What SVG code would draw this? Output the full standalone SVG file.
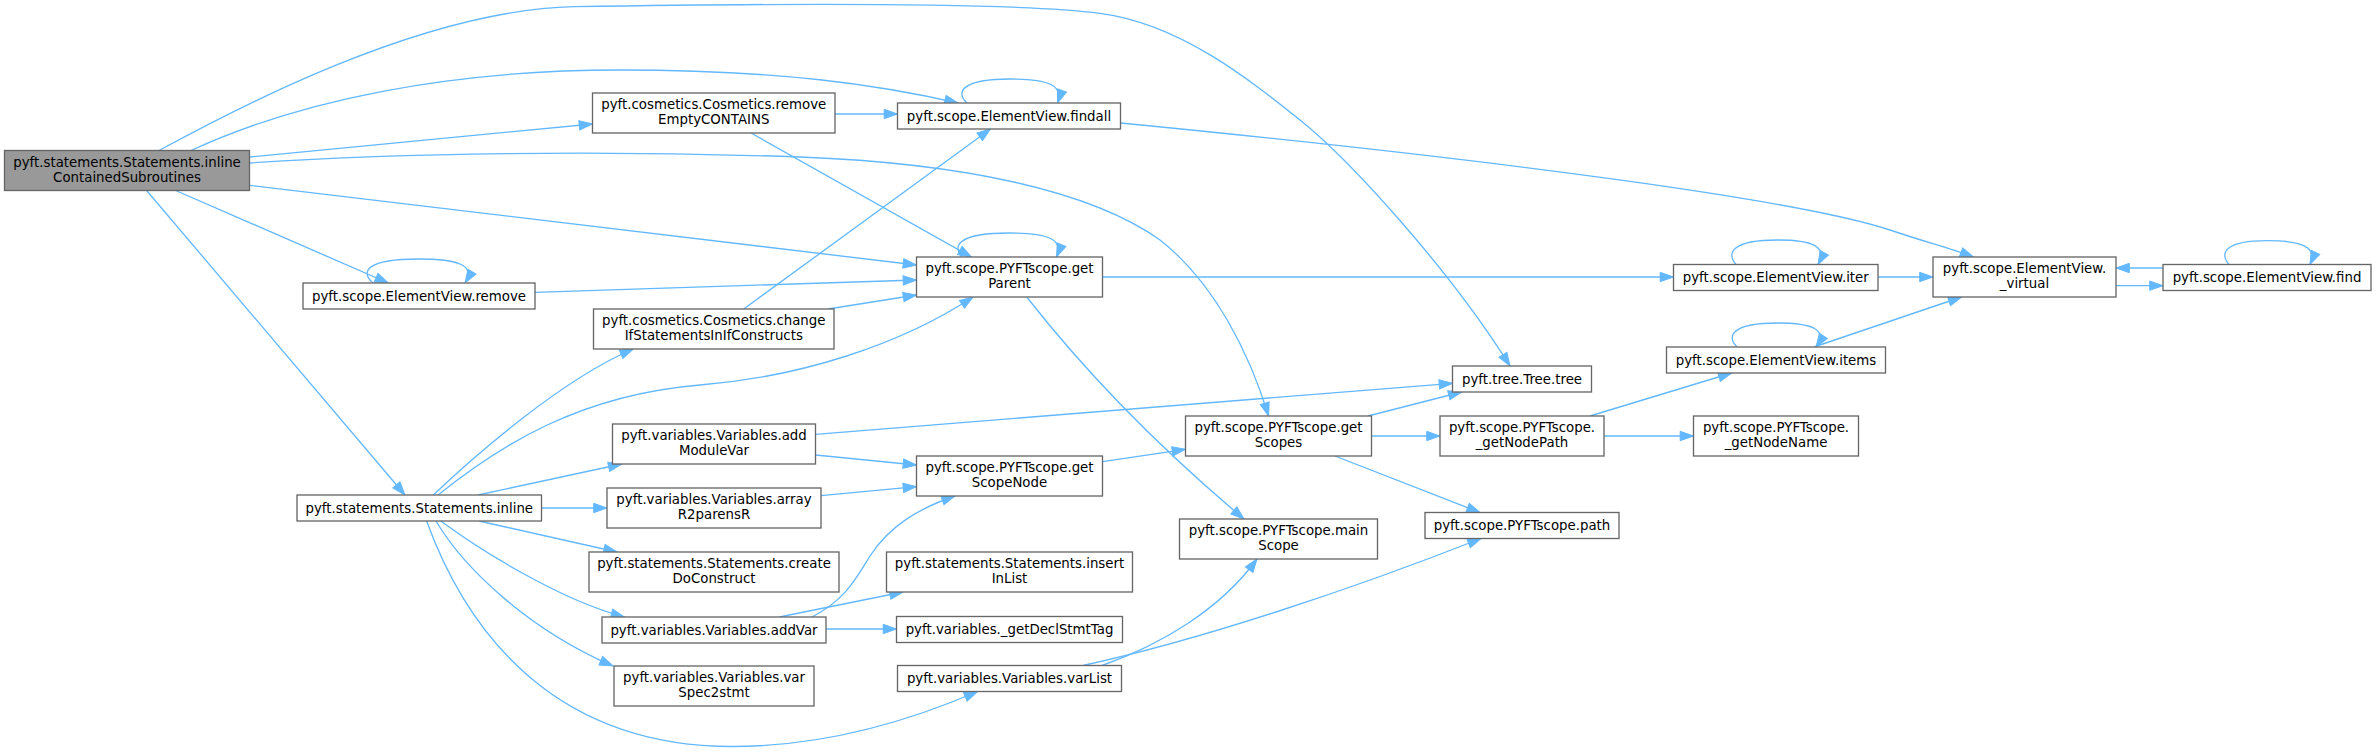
<svg xmlns="http://www.w3.org/2000/svg" width="2376" height="752" viewBox="0 0 2376 752">
<style>
.node rect{fill:#ffffff;stroke:#666666;stroke-width:1.33}
.main rect{fill:#999999}
.node text{font-family:"DejaVu Sans","Liberation Sans",sans-serif;font-size:13.33px;text-anchor:middle;fill:#000000}
.edges path{fill:none;stroke:#63b8ff;stroke-width:1.33;marker-end:url(#ah)}
</style>
<defs>
<marker id="ah" markerUnits="userSpaceOnUse" markerWidth="14" markerHeight="10" viewBox="0 0 14 10" refX="13.3" refY="4.67" orient="auto" overflow="visible">
<path d="M0,0 L13.3,4.67 L0,9.33 z" fill="#63b8ff" stroke="#63b8ff" stroke-width="1"/>
</marker>
</defs>
<rect x="0" y="0" width="2376" height="752" fill="#ffffff"/>
<g class="edges" id="edges">
<path d="M159,150.5 C230,112 420,10 574,6.7 C800,3 1020,3 1100,13.3 C1180,23.6 1250,80 1300,120 C1350,160 1450,270 1510,366"/>
<path d="M191,150.5 C300,100 450,70 620,70 C780,70 880,85 958,103"/>
<path d="M249.5,157 L592.5,124"/>
<path d="M249.5,163 C400,153 600,150 800,157 C960,163 1090,190 1160,240 C1215,283 1250,355 1268.6,416"/>
<path d="M249.5,185.3 L916.5,265"/>
<path d="M175.7,190.5 L388.3,283"/>
<path d="M146.6,190.5 L405,495"/>
<path d="M835,114 L897.5,114"/>
<path d="M751,133 L971.4,257"/>
<path d="M967,103 C955,92 962,79 1010,79 C1048,79 1064,85 1057.5,103"/>
<path d="M1120.6,123 C1500,160 1800,200 1890,230 C1925,242 1950,248 1973.5,257"/>
<path d="M962,257 C952,246 958,233 1009,233 C1048,233 1064,239 1056.5,257"/>
<path d="M1102.5,277 L1673.5,277"/>
<path d="M1026.7,297 C1080,365 1150,440 1244,519"/>
<path d="M373,283 C360,272 366,259 418,259 C458,259 476,265 465,283"/>
<path d="M535,292.3 L916.5,280"/>
<path d="M743.7,309 L990.5,129"/>
<path d="M828,309 L916.5,295"/>
<path d="M433.3,495 C470,460 560,380 633.3,349"/>
<path d="M438,495 C500,445 580,395 700,385 C800,377 900,345 973,297"/>
<path d="M478,495 L621.7,464"/>
<path d="M541.5,508 L607,508"/>
<path d="M479,521 L617,552"/>
<path d="M440.8,521 C480,550 560,600 624.4,617"/>
<path d="M436,521 C465,570 530,630 613,666"/>
<path d="M426.6,521 C470,640 560,746 731.6,746.5 C820,746.5 900,725 977.5,691.5"/>
<path d="M815.5,434.3 L1452.5,383.3"/>
<path d="M815.5,455 L916.5,465"/>
<path d="M821,495.7 L916.5,486.7"/>
<path d="M812,617 C845,600 855,580 870,556 C890,525 920,508 955,496"/>
<path d="M779.4,617 L903,592"/>
<path d="M826,629 L896.5,629"/>
<path d="M1102.5,461.7 L1185.5,449.3"/>
<path d="M1368,416 L1461.7,392"/>
<path d="M1371.5,436 L1440,436"/>
<path d="M1335,456 L1480,512.5"/>
<path d="M1102,665.5 C1160,645 1220,610 1257,559"/>
<path d="M1083,665.5 C1200,640 1350,590 1481,538.5"/>
<path d="M1590,416 L1731.7,373"/>
<path d="M1604,436 L1693.5,436"/>
<path d="M1737,347 C1726,336 1732,323 1777,323 C1812,323 1828,329 1816,347"/>
<path d="M1813.9,347 L1961.6,297"/>
<path d="M1736,264.5 C1726,253 1732,240 1777,240 C1812,240 1828,246 1818,264.5"/>
<path d="M1878,277 L1933,277"/>
<path d="M2116,285.7 L2163,285.7"/>
<path d="M2163,268 L2116,268"/>
<path d="M2229,264.5 C2219,253 2225,240.7 2267,240.7 C2302,240.7 2318,247 2310,264.5"/>
</g>
<g class="node main" id="n_inlineContainedSubroutines"><rect x="4.5" y="150.5" width="245" height="40"/><text x="127" y="166.8">pyft.statements.Statements.inline</text><text x="127" y="181.8">ContainedSubroutines</text></g>
<g class="node" id="n_removeEmptyCONTAINS"><rect x="592.5" y="93" width="242.5" height="40"/><text x="713.75" y="109.3">pyft.cosmetics.Cosmetics.remove</text><text x="713.75" y="124.3">EmptyCONTAINS</text></g>
<g class="node" id="n_findall"><rect x="897.5" y="103" width="223" height="26"/><text x="1009" y="120.7">pyft.scope.ElementView.findall</text></g>
<g class="node" id="n_getParent"><rect x="916.5" y="257" width="186" height="40"/><text x="1009.5" y="273.3">pyft.scope.PYFTscope.get</text><text x="1009.5" y="288.3">Parent</text></g>
<g class="node" id="n_remove"><rect x="303" y="283" width="232" height="26"/><text x="419" y="300.7">pyft.scope.ElementView.remove</text></g>
<g class="node" id="n_changeIf"><rect x="593.5" y="309" width="240.5" height="40"/><text x="713.75" y="325.3">pyft.cosmetics.Cosmetics.change</text><text x="713.75" y="340.3">IfStatementsInIfConstructs</text></g>
<g class="node" id="n_inline"><rect x="297" y="495" width="244.5" height="26"/><text x="419.25" y="512.7">pyft.statements.Statements.inline</text></g>
<g class="node" id="n_addModuleVar"><rect x="612.5" y="424" width="203" height="40"/><text x="714" y="440.3">pyft.variables.Variables.add</text><text x="714" y="455.3">ModuleVar</text></g>
<g class="node" id="n_arrayR2parensR"><rect x="607" y="488" width="214" height="40"/><text x="714" y="504.3">pyft.variables.Variables.array</text><text x="714" y="519.3">R2parensR</text></g>
<g class="node" id="n_createDoConstruct"><rect x="589" y="552" width="250" height="40"/><text x="714" y="568.3">pyft.statements.Statements.create</text><text x="714" y="583.3">DoConstruct</text></g>
<g class="node" id="n_addVar"><rect x="602" y="617" width="224" height="26"/><text x="714" y="634.7">pyft.variables.Variables.addVar</text></g>
<g class="node" id="n_varSpec2stmt"><rect x="614" y="666" width="200" height="40"/><text x="714" y="682.3">pyft.variables.Variables.var</text><text x="714" y="697.3">Spec2stmt</text></g>
<g class="node" id="n_getScopeNode"><rect x="916.5" y="456" width="186" height="40"/><text x="1009.5" y="472.3">pyft.scope.PYFTscope.get</text><text x="1009.5" y="487.3">ScopeNode</text></g>
<g class="node" id="n_insertInList"><rect x="886.5" y="552" width="246" height="40"/><text x="1009.5" y="568.3">pyft.statements.Statements.insert</text><text x="1009.5" y="583.3">InList</text></g>
<g class="node" id="n_getDeclStmtTag"><rect x="896.5" y="616.5" width="226" height="26"/><text x="1009.5" y="634.2">pyft.variables._getDeclStmtTag</text></g>
<g class="node" id="n_varList"><rect x="897.5" y="665.5" width="224" height="26"/><text x="1009.5" y="683.2">pyft.variables.Variables.varList</text></g>
<g class="node" id="n_getScopes"><rect x="1185.5" y="416" width="186" height="40"/><text x="1278.5" y="432.3">pyft.scope.PYFTscope.get</text><text x="1278.5" y="447.3">Scopes</text></g>
<g class="node" id="n_mainScope"><rect x="1179.5" y="519" width="198" height="40"/><text x="1278.5" y="535.3">pyft.scope.PYFTscope.main</text><text x="1278.5" y="550.3">Scope</text></g>
<g class="node" id="n_tree"><rect x="1452.5" y="366" width="139" height="26"/><text x="1522" y="383.7">pyft.tree.Tree.tree</text></g>
<g class="node" id="n_getNodePath"><rect x="1440" y="416" width="164" height="40"/><text x="1522" y="432.3">pyft.scope.PYFTscope.</text><text x="1522" y="447.3">_getNodePath</text></g>
<g class="node" id="n_path"><rect x="1425" y="512.5" width="194" height="26"/><text x="1522" y="530.2">pyft.scope.PYFTscope.path</text></g>
<g class="node" id="n_iter"><rect x="1673.5" y="264.5" width="204.5" height="26"/><text x="1775.75" y="282.2">pyft.scope.ElementView.iter</text></g>
<g class="node" id="n_items"><rect x="1666.5" y="347" width="219" height="26"/><text x="1776" y="364.7">pyft.scope.ElementView.items</text></g>
<g class="node" id="n_getNodeName"><rect x="1693.5" y="416" width="165" height="40"/><text x="1776" y="432.3">pyft.scope.PYFTscope.</text><text x="1776" y="447.3">_getNodeName</text></g>
<g class="node" id="n_virtual"><rect x="1933" y="257" width="183" height="40"/><text x="2024.5" y="273.3">pyft.scope.ElementView.</text><text x="2024.5" y="288.3">_virtual</text></g>
<g class="node" id="n_find"><rect x="2163" y="264.5" width="208" height="26"/><text x="2267" y="282.2">pyft.scope.ElementView.find</text></g>
</svg>
